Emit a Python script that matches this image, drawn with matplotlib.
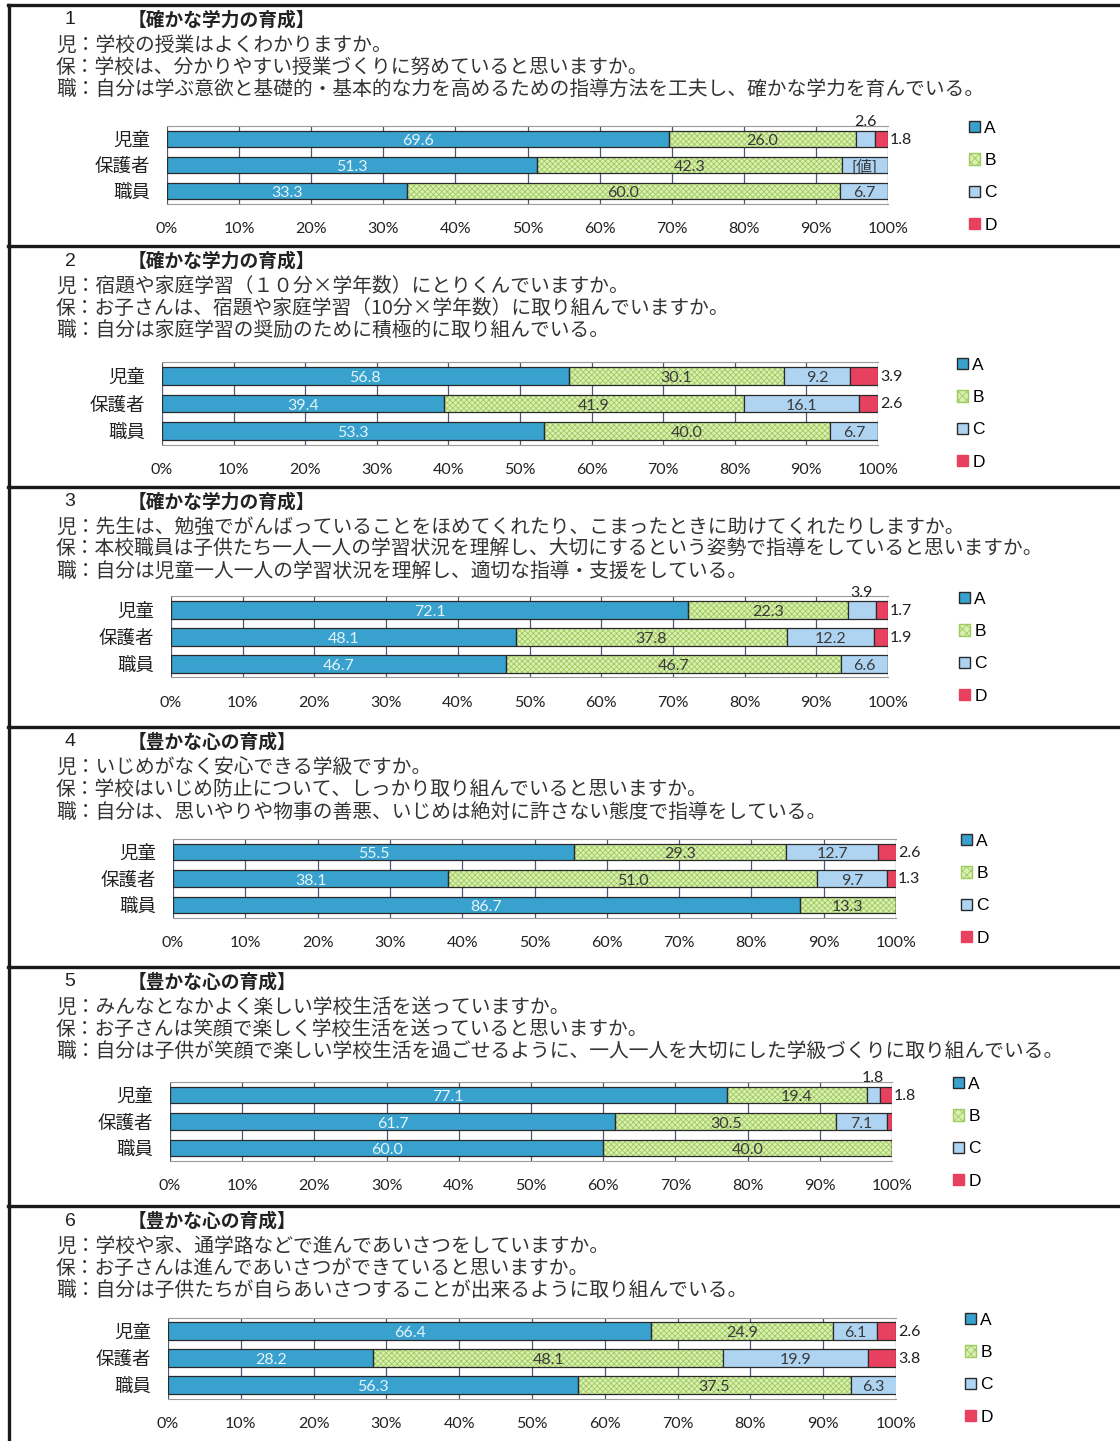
import numpy as np
import matplotlib
matplotlib.use("Agg")
from matplotlib import pyplot as plt
from matplotlib.lines import Line2D
from matplotlib.patches import Patch

plt.rcParams['font.family'] = ['Noto Sans CJK JP', 'DejaVu Sans']
plt.rcParams['hatch.linewidth'] = 0.6

W, H = 1120, 1441

groups = ["児童", "保護者", "職員"]
answers = ["A", "B", "C", "D"]

numbers = ["1", "2", "3", "4", "5", "6"]
titles = ["【確かな学力の育成】", "【確かな学力の育成】", "【確かな学力の育成】",
          "【豊かな心の育成】", "【豊かな心の育成】", "【豊かな心の育成】"]
q_child = [
    "児：学校の授業はよくわかりますか。",
    "児：宿題や家庭学習（１０分×学年数）にとりくんでいますか。",
    "児：先生は、勉強でがんばっていることをほめてくれたり、こまったときに助けてくれたりしますか。",
    "児：いじめがなく安心できる学級ですか。",
    "児：みんなとなかよく楽しい学校生活を送っていますか。",
    "児：学校や家、通学路などで進んであいさつをしていますか。",
]
q_parent = [
    "保：学校は、分かりやすい授業づくりに努めていると思いますか。",
    "保：お子さんは、宿題や家庭学習（10分×学年数）に取り組んでいますか。",
    "保：本校職員は子供たち一人一人の学習状況を理解し、大切にするという姿勢で指導をしていると思いますか。",
    "保：学校はいじめ防止について、しっかり取り組んでいると思いますか。",
    "保：お子さんは笑顔で楽しく学校生活を送っていると思いますか。",
    "保：お子さんは進んであいさつができていると思いますか。",
]
q_staff = [
    "職：自分は学ぶ意欲と基礎的・基本的な力を高めるための指導方法を工夫し、確かな学力を育んでいる。",
    "職：自分は家庭学習の奨励のために積極的に取り組んでいる。",
    "職：自分は児童一人一人の学習状況を理解し、適切な指導・支援をしている。",
    "職：自分は、思いやりや物事の善悪、いじめは絶対に許さない態度で指導をしている。",
    "職：自分は子供が笑顔で楽しい学校生活を過ごせるように、一人一人を大切にした学級づくりに取り組んでいる。",
    "職：自分は子供たちが自らあいさつすることが出来るように取り組んでいる。",
]

# percent A, B, C, D ; rows 児童, 保護者, 職員
q1 = [[69.6, 26.0, 2.6, 1.8], [51.3, 42.3, 6.4, 0.0], [33.3, 60.0, 6.7, 0.0]]
q2 = [[56.8, 30.1, 9.2, 3.9], [39.4, 41.9, 16.1, 2.6], [53.3, 40.0, 6.7, 0.0]]
q3 = [[72.1, 22.3, 3.9, 1.7], [48.1, 37.8, 12.2, 1.9], [46.7, 46.7, 6.6, 0.0]]
q4 = [[55.5, 29.3, 12.7, 2.6], [38.1, 51.0, 9.7, 1.3], [86.7, 13.3, 0.0, 0.0]]
q5 = [[77.1, 19.4, 1.8, 1.8], [61.7, 30.5, 7.1, 0.7], [60.0, 40.0, 0.0, 0.0]]
q6 = [[66.4, 24.9, 6.1, 2.6], [28.2, 48.1, 19.9, 3.8], [56.3, 37.5, 6.3, 0.0]]
data = [q1, q2, q3, q4, q5, q6]
label_text = {(0, 1, 2): "[値]"}  # label left unfilled in the source

colors = ["#38a1cd", "#dcefb2", "#aed4f2", "#e8415f"]
hatch_col = "#9ccb5e"
label_cols = ["#e4f4fb", "#3a3a3a", "#3a3a3a", "#3a3a3a"]
num_font = ["Lato", "Noto Sans CJK JP"]

# layout (pixels): panel top border, first bar centre, bar step, axes x0/x1, legend x
tops = [5, 246, 487, 727, 967, 1206]
bar0 = [139, 376, 610, 852, 1095, 1331]
steps = [26, 27.5, 27, 26.5, 26.5, 27]
ax_x = [(167, 888), (162, 878), (171, 888), (173, 896), (170, 892), (168, 896)]
leg_x = [960, 948, 950, 952, 944, 956]

def fx(x): return x / W
def fy(y): return 1 - y / H

fig = plt.figure(figsize=(W/100, H/100), dpi=100)
fig.patch.set_facecolor("white")

for i in range(6):
    t = tops[i]
    # borders
    fig.add_artist(Line2D([fx(8), 1], [fy(t), fy(t)], color="#1a1a1a", lw=2.4))
    # header
    fig.text(fx(70), fy(t + 15), numbers[i], fontsize=14, family=["Liberation Sans"],
             ha="center", va="center", color="#222")
    fig.text(fx(128), fy(t + 15), titles[i], fontsize=13.5, fontweight="bold",
             ha="left", va="center", color="#222")
    for k, line in enumerate([q_child[i], q_parent[i], q_staff[i]]):
        fig.text(fx(56), fy(t + 40 + 22.5 * k), line, fontsize=14.2,
                 ha="left", va="center", color="#333")

    s = steps[i]
    x0, x1 = ax_x[i]
    ytop = bar0[i] - s / 2
    ybot = bar0[i] + 2.5 * s
    ax = fig.add_axes([fx(x0), fy(ybot), fx(x1) - fx(x0), fy(ytop) - fy(ybot)])
    vals = np.array(data[i])
    ypos = np.arange(len(groups))
    left = np.zeros(len(groups))
    for j, a in enumerate(answers):
        if a == "B":
            ax.barh(ypos, vals[:, j], left=left, height=0.64, color=colors[j],
                    edgecolor=hatch_col, hatch="xxxxxx", linewidth=0, zorder=2)
            ax.barh(ypos, vals[:, j], left=left, height=0.64, fill=False,
                    edgecolor="#2a2a2a", linewidth=0.9, zorder=3)
        else:
            ax.barh(ypos, vals[:, j], left=left, height=0.64, color=colors[j],
                    edgecolor="#2a2a2a", linewidth=0.9, zorder=3)
        for r in range(len(groups)):
            v = vals[r, j]
            txt = label_text.get((i, r, j), f"{v:.1f}")
            if v < 1:
                continue
            if a == "D":
                ax.text(100.3, r + 0.03, txt, ha="left", va="center", fontsize=11.5,
                        family=num_font, color="#222", zorder=5, clip_on=False)
            elif a == "C" and v < 5:
                ax.text(left[r] + v / 2, r - 0.64, txt, ha="center", va="center",
                        fontsize=11.5, family=num_font, color="#222", zorder=5, clip_on=False)
            else:
                ax.text(left[r] + v / 2, r + 0.08, txt, ha="center", va="center",
                        fontsize=11.5, family=num_font, color=label_cols[j], zorder=5)
        left += vals[:, j]

    ax.set_xlim(0, 100)
    ax.set_ylim(2.5, -0.5)
    ax.set_xticks(np.arange(0, 101, 10))
    ax.set_xticklabels([f"{v}%" for v in range(0, 101, 10)], family=num_font, fontsize=11.5)
    ax.set_yticks(ypos)
    ax.set_yticklabels(groups, fontsize=13.3)
    ax.tick_params(axis="x", length=0, pad=13, colors="#222")
    ax.tick_params(axis="y", length=0, pad=12, colors="#222")
    ax.grid(axis="x", color="#4a5878", lw=0.9, zorder=0)
    ax.set_axisbelow(True)
    for side in ["left", "right"]:
        ax.spines[side].set_visible(False)
    for side in ["top", "bottom"]:
        ax.spines[side].set_color("#9a9a9a")
        ax.spines[side].set_linewidth(0.8)

    handles = [Patch(facecolor=colors[0], edgecolor="#2a2a2a"),
               Patch(facecolor=colors[1], edgecolor=hatch_col, hatch="xxxx"),
               Patch(facecolor=colors[2], edgecolor="#2a2a2a"),
               Patch(facecolor=colors[3], edgecolor=colors[3])]
    fig.legend(handles, answers, loc="upper left",
               bbox_to_anchor=(fx(leg_x[i]), fy(bar0[i] - 27)),
               frameon=False, prop={"family": ["Liberation Sans"], "size": 12.5},
               handlelength=0.65, handleheight=0.65, handletextpad=0.25,
               labelspacing=1.0, borderpad=0)

fig.add_artist(Line2D([fx(9), fx(9)], [fy(5), 0], color="#1a1a1a", lw=2.4))

plt.savefig("out.png", dpi=100)
